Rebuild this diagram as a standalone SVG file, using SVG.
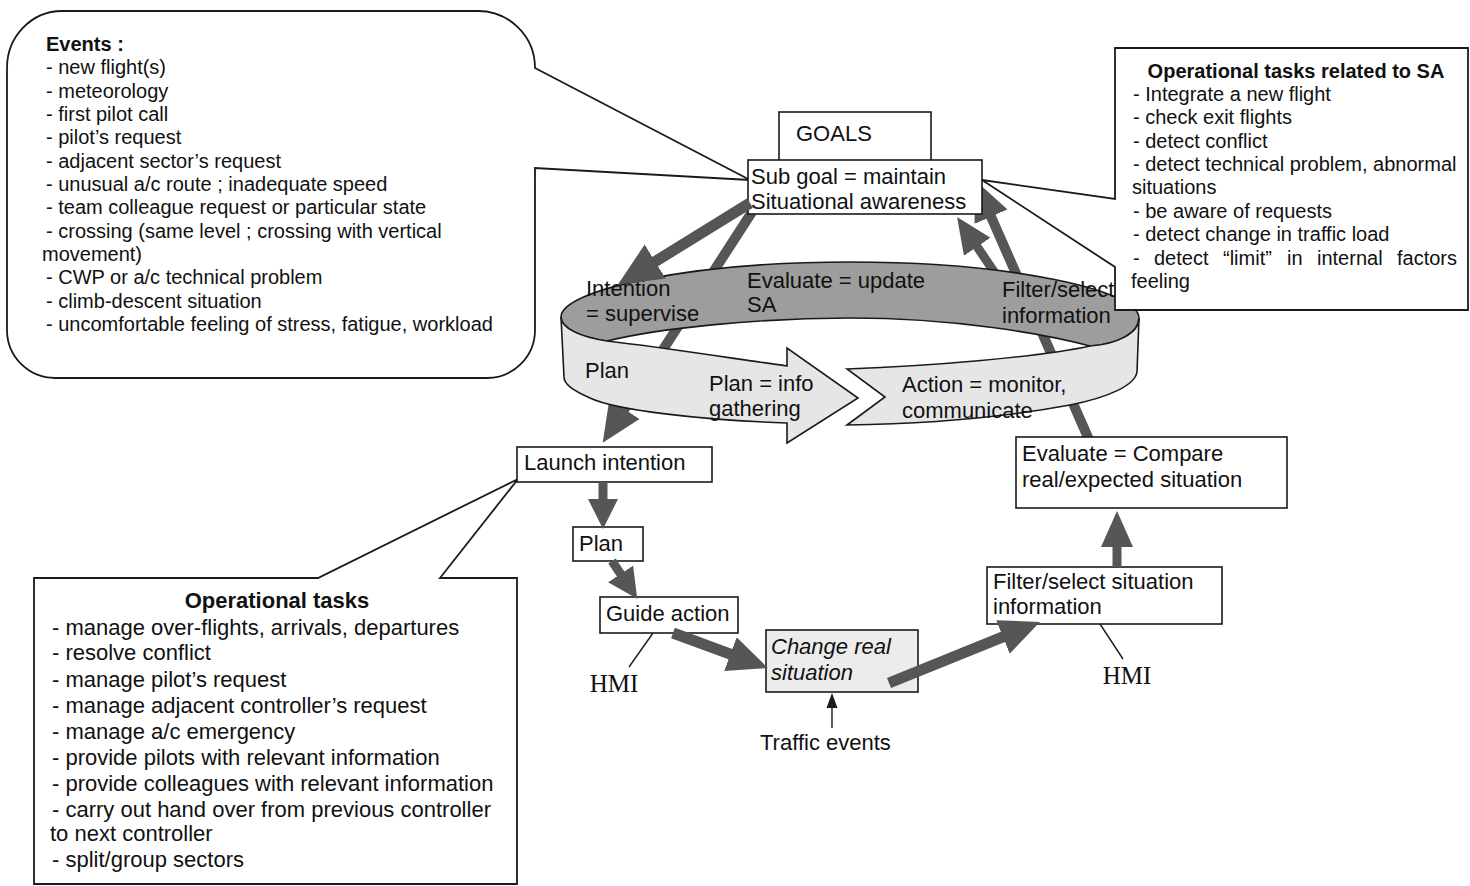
<svg xmlns="http://www.w3.org/2000/svg" width="1470" height="886" viewBox="0 0 1470 886">
<style>
.t{font-family:"Liberation Sans",Arial,Helvetica,sans-serif;font-size:20px;fill:#111}
.m{font-size:22px}
.b{font-weight:bold}
.i{font-style:italic}
.tm{font-family:"Liberation Serif","Times New Roman",serif;font-size:25px;fill:#111}
.box{fill:#fff;stroke:#1a1a1a;stroke-width:1.6}
.co{fill:#fff;stroke:#1a1a1a;stroke-width:1.8;stroke-linejoin:miter}
.thin{stroke:#1a1a1a;stroke-width:1.4;fill:none}
.ar{stroke:#565656;fill:none;stroke-linecap:butt}
.ringtop{fill:#9d9d9d;stroke:#1a1a1a;stroke-width:1.6}
.ringside{fill:#e6e6e6;stroke:#1a1a1a;stroke-width:1.6;stroke-linejoin:miter}
</style>
<defs>
<marker id="hB" markerUnits="userSpaceOnUse" markerWidth="44" markerHeight="40" refX="10" refY="20" orient="auto"><path d="M0,2 L40,20 L0,38 Z" fill="#565656"/></marker>
<marker id="hX" markerUnits="userSpaceOnUse" markerWidth="48" markerHeight="44" refX="10" refY="22" orient="auto"><path d="M0,2 L44,22 L0,42 Z" fill="#565656"/></marker>
<marker id="hM" markerUnits="userSpaceOnUse" markerWidth="40" markerHeight="36" refX="10" refY="18" orient="auto"><path d="M0,2 L36,18 L0,34 Z" fill="#565656"/></marker>
<marker id="hS" markerUnits="userSpaceOnUse" markerWidth="34" markerHeight="32" refX="8" refY="16" orient="auto"><path d="M0,1 L30,16 L0,31 Z" fill="#565656"/></marker>
</defs>
<rect width="1470" height="886" fill="#fff"/>

<!-- connectors behind the ring -->
<g id="connectors-back">
<line class="ar" x1="752" y1="212" x2="619" y2="417.6" stroke-width="10" marker-end="url(#hB)"/>
<line class="ar" x1="1090" y1="442" x2="987" y2="207.5" stroke-width="10" marker-end="url(#hB)"/>
<line class="ar" x1="1005" y1="288" x2="971.6" y2="238.5" stroke-width="9" marker-end="url(#hM)"/>
</g>

<!-- ring -->
<g id="ring">
<path class="ringtop" d="M561,317 C561,290 690,262 850,262 C1010,262 1139,290 1139,318 C1139,333 1118,344 1090,346 C1045,334 955,318 850,318 C760,318 660,328 607,341 C580,337 561,328 561,317 Z"/>
<path class="ringside" d="M561,317 C561,328 580,337 607,341 C660,347 730,358 787,366 L787,348 L858,398 L787,443 L787,423 C700,420 615,410 590,398 C572,390 564,384 564,377 Z"/>
<path class="ringside" d="M847,369 C930,366 1040,357 1090,346 C1118,344 1139,333 1139,318 L1137,372 C1135,385 1110,397 1070,405 C1000,418 920,424 847,425 L885,397 Z"/>
<text class="t m" x="586" y="296">Intention</text>
<text class="t m" x="586" y="321">= supervise</text>
<text class="t m" x="747" y="288">Evaluate = update</text>
<text class="t m" x="747" y="312">SA</text>
<text class="t m" x="1002" y="297">Filter/select</text>
<text class="t m" x="1002" y="323">information</text>
<text class="t m" x="585" y="378">Plan</text>
<text class="t m" x="709" y="391">Plan = info</text>
<text class="t m" x="709" y="416">gathering</text>
<text class="t m" x="902" y="392">Action = monitor,</text>
<text class="t m" x="902" y="418">communicate</text>
</g>

<!-- callouts -->
<g id="events-callout">
<path class="co" d="M62,11 H478 A57 57 0 0 1 535,68 L750,180 L535,168 V330 A48 48 0 0 1 487,378 H55 A48 48 0 0 1 7,330 V68 A55 57 0 0 1 62,11 Z"/>
<text class="t b" x="46" y="51">Events :</text>
<text class="t" x="46" y="74">- new flight(s)</text>
<text class="t" x="46" y="97.5">- meteorology</text>
<text class="t" x="46" y="121">- first pilot call</text>
<text class="t" x="46" y="144">- pilot’s request</text>
<text class="t" x="46" y="167.5">- adjacent sector’s request</text>
<text class="t" x="46" y="191">- unusual a/c route ; inadequate speed</text>
<text class="t" x="46" y="214">- team colleague request or particular state</text>
<text class="t" x="46" y="237.5">- crossing (same level ; crossing with vertical</text>
<text class="t" x="42" y="261">movement)</text>
<text class="t" x="46" y="284">- CWP or a/c technical problem</text>
<text class="t" x="46" y="307.5">- climb-descent situation</text>
<text class="t" x="46" y="331">- uncomfortable feeling of stress, fatigue, workload</text>
</g>

<g id="sa-tasks-callout">
<path class="co" d="M1115,48 H1468 V310 H1115 V267 L982,180 L1115,199 Z"/>
<text class="t b" x="1296" y="78" text-anchor="middle">Operational tasks related to SA</text>
<text class="t" x="1133" y="101">- Integrate a new flight</text>
<text class="t" x="1133" y="124">- check exit flights</text>
<text class="t" x="1133" y="147.5">- detect conflict</text>
<text class="t" x="1133" y="171">- detect technical problem, abnormal</text>
<text class="t" x="1132" y="194">situations</text>
<text class="t" x="1133" y="218">- be aware of requests</text>
<text class="t" x="1133" y="241">- detect change in traffic load</text>
<text class="t" y="265"><tspan x="1133">-</tspan><tspan x="1154">detect</tspan><tspan x="1223">“limit”</tspan><tspan x="1287">in</tspan><tspan x="1317">internal</tspan><tspan x="1397">factors</tspan></text>
<text class="t" x="1131" y="288">feeling</text>
</g>

<g id="op-tasks-callout">
<path class="co" d="M34,578 H318 L518,479 L440,578 H517 V884 H34 Z"/>
<text class="t m b" x="277" y="608" text-anchor="middle">Operational tasks</text>
<text class="t m" x="52" y="635">- manage over-flights, arrivals, departures</text>
<text class="t m" x="52" y="660">- resolve conflict</text>
<text class="t m" x="52" y="687">- manage pilot’s request</text>
<text class="t m" x="52" y="713">- manage adjacent controller’s request</text>
<text class="t m" x="52" y="739">- manage a/c emergency</text>
<text class="t m" x="52" y="765">- provide pilots with relevant information</text>
<text class="t m" x="52" y="791">- provide colleagues with relevant information</text>
<text class="t m" x="52" y="817">- carry out hand over from previous controller</text>
<text class="t m" x="50" y="841">to next controller</text>
<text class="t m" x="52" y="867">- split/group sectors</text>
</g>

<!-- nodes -->
<g id="goals"><rect class="box" x="779" y="112" width="152" height="60"/><text class="t m" x="796" y="141">GOALS</text></g>
<g id="subgoal"><rect class="box" x="748" y="160" width="234" height="54"/><text class="t m" x="751" y="184">Sub goal = maintain</text><text class="t m" x="751" y="209">Situational awareness</text></g>
<g id="launch"><rect class="box" x="517" y="447" width="195" height="35"/><text class="t m" x="524" y="470">Launch intention</text></g>
<g id="plan"><rect class="box" x="573" y="527" width="70" height="34"/><text class="t m" x="579" y="551">Plan</text></g>
<g id="guide"><rect class="box" x="600" y="597" width="138" height="36"/><text class="t m" x="606" y="621">Guide action</text></g>
<g id="change"><rect class="box" x="766" y="630" width="152" height="62" style="fill:#ececec"/><text class="t m i" x="771" y="654">Change real</text><text class="t m i" x="771" y="680">situation</text></g>
<g id="filter"><rect class="box" x="987" y="567" width="235" height="57"/><text class="t m" x="993" y="589">Filter/select situation</text><text class="t m" x="993" y="614">information</text></g>
<g id="evaluate"><rect class="box" x="1016" y="437" width="271" height="71"/><text class="t m" x="1022" y="461">Evaluate = Compare</text><text class="t m" x="1022" y="487">real/expected situation</text></g>
<g id="hmi-left"><line class="thin" x1="653" y1="633" x2="629" y2="667"/><text class="tm" x="614" y="692" text-anchor="middle">HMI</text></g>
<g id="hmi-right"><line class="thin" x1="1100" y1="624" x2="1123" y2="659"/><text class="tm" x="1127" y="684" text-anchor="middle">HMI</text></g>
<g id="traffic"><text class="t m" x="760" y="750">Traffic events</text></g>

<!-- connectors on top -->
<g id="connectors">
<line class="ar" x1="750" y1="203" x2="646.7" y2="266.8" stroke-width="11" marker-end="url(#hX)"/>
<line class="ar" x1="603" y1="482" x2="603" y2="507" stroke-width="9" marker-end="url(#hS)"/>
<line class="ar" x1="612" y1="561" x2="625" y2="580.5" stroke-width="9" marker-end="url(#hS)"/>
<line class="ar" x1="673" y1="633" x2="739.8" y2="657.6" stroke-width="11" marker-end="url(#hB)"/>
<line class="ar" x1="889" y1="683" x2="1012.2" y2="633.2" stroke-width="11" marker-end="url(#hB)"/>
<line class="ar" x1="1117" y1="567" x2="1117" y2="537" stroke-width="9" marker-end="url(#hM)"/>
<line class="thin" x1="832" y1="728" x2="832" y2="706"/>
<polygon points="826.5,708 832,693 837.5,708" fill="#1a1a1a"/>
</g>
</svg>
